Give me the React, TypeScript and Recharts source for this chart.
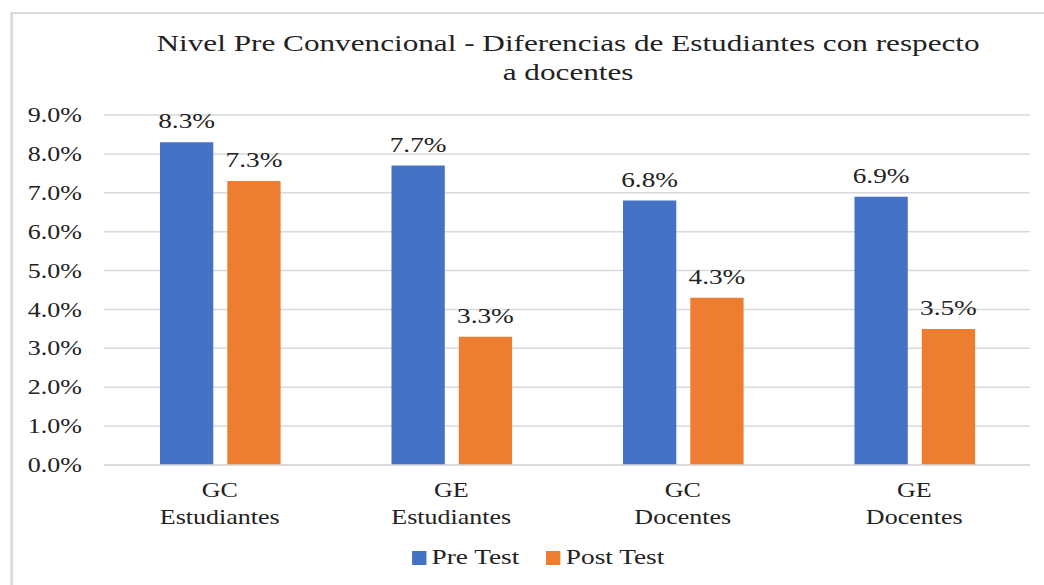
import { Bar, BarChart, CartesianGrid, LabelList, XAxis, YAxis } from "recharts";

const categories = ["GC\nEstudiantes", "GE\nEstudiantes", "GC\nDocentes", "GE\nDocentes"];
const preTest = [0.083, 0.077, 0.068, 0.069];
const postTest = [0.073, 0.033, 0.043, 0.035];
const yTicks = [0, 0.01, 0.02, 0.03, 0.04, 0.05, 0.06, 0.07, 0.08, 0.09];
const seriesNames = ["Pre Test", "Post Test"];
const seriesColors = ["#4472C4", "#ED7D31"];

const data = categories.map((name, i) => ({ name, pre: preTest[i], post: postTest[i] }));

const FONT = "'Liberation Serif', 'Times New Roman', serif";
const STRETCH = 1.3;
const W = 1044 / STRETCH;
const H = 585;

const pct = (v: number) => `${(v * 100).toFixed(1)}%`;

function CategoryTick({ x, y, payload }: any) {
  const lines = String(payload.value).split("\n");
  return (
    <text x={x} y={y} textAnchor="middle" fontFamily={FONT} fontSize={20} fill="#222">
      {lines.map((line, i) => (
        <tspan key={i} x={x} dy={i === 0 ? 24 : 27}>
          {line}
        </tspan>
      ))}
    </text>
  );
}

export default function App() {
  return (
    <div style={{ position: "absolute", left: 0, top: 0, width: 1044, height: 585, overflow: "hidden", background: "#fff" }}>
      <div
        style={{
          position: "absolute",
          left: 0,
          top: 0,
          width: W,
          height: H,
          transform: `scaleX(${STRETCH})`,
          transformOrigin: "0 0",
        }}
      >
        <div
          style={{
            position: "absolute",
            left: 10 / STRETCH,
            top: 12,
            width: W,
            height: H,
            borderLeft: "2px solid #d9d9d9",
            borderTop: "2px solid #d9d9d9",
          }}
        />
        <div
          style={{
            position: "absolute",
            left: 437 - 350,
            top: 29,
            width: 700,
            textAlign: "center",
            fontFamily: FONT,
            fontSize: 24,
            lineHeight: "29px",
            color: "#222",
          }}
        >
          Nivel Pre Convencional - Diferencias de Estudiantes con respecto
          <br />a docentes
        </div>
        <BarChart
          width={W}
          height={H}
          data={data}
          margin={{ top: 115, right: W - 1030 / STRETCH, bottom: 0, left: 0 }}
          barCategoryGap={56 / STRETCH}
          barGap={14 / STRETCH}
          style={{ position: "absolute", left: 0, top: 0 }}
        >
          <CartesianGrid vertical={false} stroke="#d9d9d9" strokeWidth={1.5} />
          <XAxis
            dataKey="name"
            tickLine={false}
            axisLine={{ stroke: "#d9d9d9", strokeWidth: 1.5 }}
            tick={<CategoryTick />}
            interval={0}
            height={120}
          />
          <YAxis
            domain={[0, 0.09]}
            ticks={yTicks}
            interval={0}
            tickFormatter={pct}
            axisLine={false}
            tickLine={false}
            tickSize={6}
            tickMargin={11}
            width={104 / STRETCH}
            tick={{ fontFamily: FONT, fontSize: 20, fill: "#222" }}
          />
          <Bar dataKey="pre" name={seriesNames[0]} fill={seriesColors[0]} isAnimationActive={false}>
            <LabelList dataKey="pre" position="top" offset={14} formatter={pct} style={{ fontFamily: FONT, fontSize: 21, fill: "#222" }} />
          </Bar>
          <Bar dataKey="post" name={seriesNames[1]} fill={seriesColors[1]} isAnimationActive={false}>
            <LabelList dataKey="post" position="top" offset={14} formatter={pct} style={{ fontFamily: FONT, fontSize: 21, fill: "#222" }} />
          </Bar>
        </BarChart>
        <div
          style={{
            position: "absolute",
            left: 412 / STRETCH,
            top: 545,
            display: "flex",
            alignItems: "center",
            fontFamily: FONT,
            fontSize: 21,
            color: "#222",
            whiteSpace: "nowrap",
          }}
        >
          {seriesNames.map((name, i) => (
            <span key={name} style={{ display: "flex", alignItems: "center", marginRight: i === 0 ? 27 / STRETCH : 0 }}>
              <span style={{ display: "inline-block", width: 11, height: 14, background: seriesColors[i], marginRight: 4 }} />
              {name}
            </span>
          ))}
        </div>
      </div>
    </div>
  );
}
